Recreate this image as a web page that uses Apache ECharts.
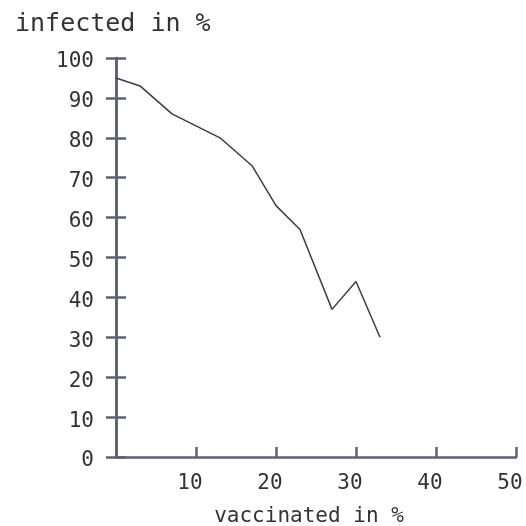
<!DOCTYPE html>
<html><head><meta charset="utf-8">
<script src="https://cdn.jsdelivr.net/npm/echarts@6/dist/echarts.min.js"></script>
<style>html,body{margin:0;padding:0;background:#fff}#c{width:526px;height:526px}</style>
</head><body><div id="c"></div>
<script>
const vaccinated = [0, 3, 7, 10, 13, 17, 20, 23, 27, 30, 33];
const infected   = [95, 93, 86, 83, 80, 73, 63, 57, 37, 44, 30];
const xTicks = [0, 10, 20, 30, 40, 50];
const yTicks = [0, 10, 20, 30, 40, 50, 60, 70, 80, 90, 100];

const font = 'DejaVu Sans Mono';
const axisColor = '#5d6170';
const textColor = '#333';
const chart = echarts.init(document.getElementById('c'), null, {renderer: 'canvas'});
const common = {
  axisLine: {show: true, lineStyle: {color: axisColor, width: 2.5}},
  splitLine: {show: false}
};
chart.setOption({
  animation: false,
  title: {
    text: 'infected in %', left: 15, top: 12, padding: 0,
    textStyle: {fontFamily: font, fontSize: 25, fontWeight: 'normal', color: textColor}
  },
  grid: {left: 116, right: 10, top: 58, bottom: 69, containLabel: false, outerBoundsMode: 'none'},
  xAxis: [{
    type: 'value', min: xTicks[0], max: xTicks[xTicks.length-1], interval: 10,
    name: 'vaccinated in %', nameLocation: 'middle', nameGap: 49,
    nameTextStyle: {fontFamily: font, fontSize: 21, color: textColor, padding: [0, 14, 0, 0]},
    ...common,
    axisTick: {show: true, inside: true, length: 10, lineStyle: {color: axisColor, width: 2.5}},
    axisLabel: {showMinLabel: false, fontFamily: font, fontSize: 21, color: textColor, margin: 16, padding: [0, 12, 0, 0]}
  }],
  yAxis: [{
    type: 'value', min: yTicks[0], max: yTicks[yTicks.length-1], interval: 10,
    ...common,
    axisTick: {show: true, inside: false, length: 10, lineStyle: {color: axisColor, width: 2.5}},
    axisLabel: {
      fontFamily: font, fontSize: 21, color: textColor, margin: 22,
      formatter: '{a|{value}}',
      rich: {a: {fontFamily: font, fontSize: 21, color: textColor, padding: [8, 0, 0, 0]}}
    }
  }, {
    type: 'value', min: yTicks[0], max: yTicks[yTicks.length-1], interval: 10,
    position: 'left', ...common,
    axisTick: {show: true, inside: true, length: 10, lineStyle: {color: axisColor, width: 2.5}},
    axisLabel: {show: false}
  }],
  series: [{
    type: 'line',
    data: vaccinated.map((v, i) => [v, infected[i]]),
    showSymbol: false,
    lineStyle: {color: '#3a3d4d', width: 1.5}
  }]
});
</script></body></html>
